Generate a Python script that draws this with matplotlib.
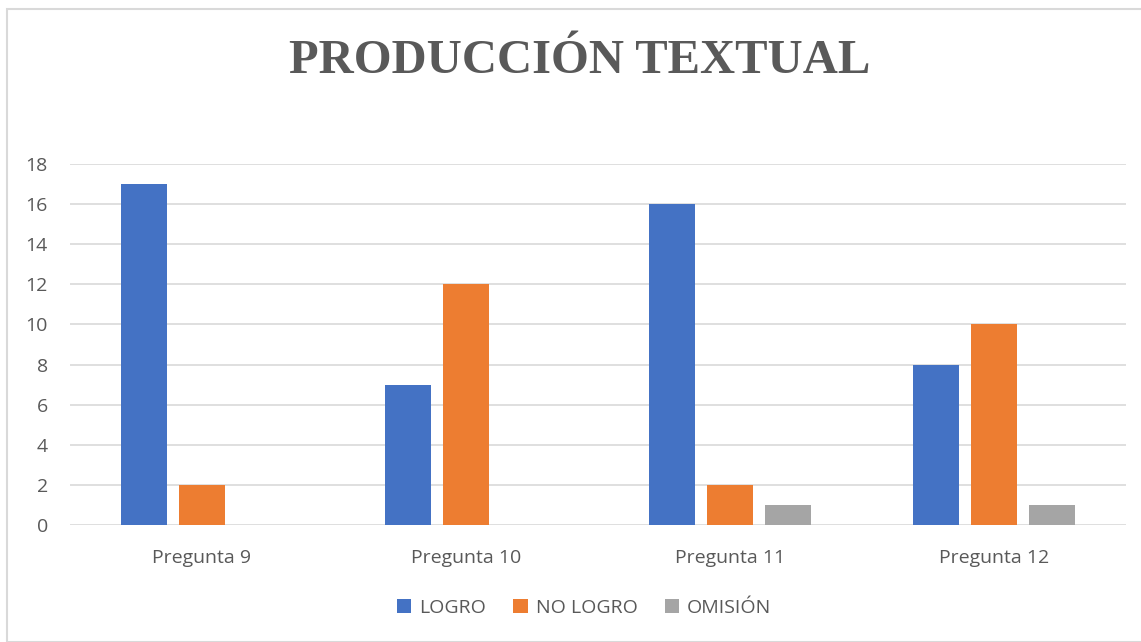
import numpy as np
import matplotlib.pyplot as plt
from matplotlib.patches import Rectangle

categorias = ["Pregunta 9", "Pregunta 10", "Pregunta 11", "Pregunta 12"]
logro = [17, 7, 16, 8]
no_logro = [2, 12, 2, 10]
omision = [0, 0, 1, 1]
series = ["LOGRO", "NO LOGRO", "OMISIÓN"]
colores = ["#4472C4", "#ED7D31", "#A5A5A5"]

W, H = 1141, 642
fig = plt.figure(figsize=(W / 100, H / 100), dpi=100)

# marco del gráfico
fig.patches.append(Rectangle((7 / W, 0), 1.0, 1 - 9 / H, transform=fig.transFigure,
                             fill=False, edgecolor="#D9D9D9", linewidth=1.5))

ax = fig.add_axes([70 / W, 1 - 525 / H, (1126 - 70) / W, (525 - 164) / H])

x = np.arange(len(categorias))
ancho = 0.174
paso = 0.22
for i, (vals, nombre) in enumerate(zip([logro, no_logro, omision], series)):
    ax.bar(x + (i - 1) * paso, vals, ancho, color=colores[i], label=nombre, zorder=3)

ax.set_xlim(-0.5, len(categorias) - 0.5)
ax.set_ylim(0, 18)
ax.set_yticks(range(0, 19, 2))
ax.set_xticks(x)
ax.set_xticklabels(categorias)
ax.grid(axis="y", color="#D9D9D9", linewidth=1.2, zorder=0)
for s in ax.spines.values():
    s.set_visible(False)
ax.tick_params(length=0, labelsize=14, labelcolor="#595959")
ax.tick_params(axis="x", pad=17)
ax.tick_params(axis="y", pad=16)
for t in ax.get_xticklabels() + ax.get_yticklabels():
    t.set_family("Open Sans")

fig.text(580 / W, 1 - 61 / H, "PRODUCCIÓN TEXTUAL", ha="center", va="center",
         fontsize=35, fontweight="bold", family="Liberation Serif", color="#595959")

fig.legend(loc="center", bbox_to_anchor=(584 / W, 1 - 608 / H), ncol=3, frameon=False,
           handlelength=0.75, handleheight=0.75, handletextpad=0.4, columnspacing=1.4,
           prop={"family": "Open Sans", "size": 14}, labelcolor="#595959")

fig.savefig("out.png", dpi=100)
